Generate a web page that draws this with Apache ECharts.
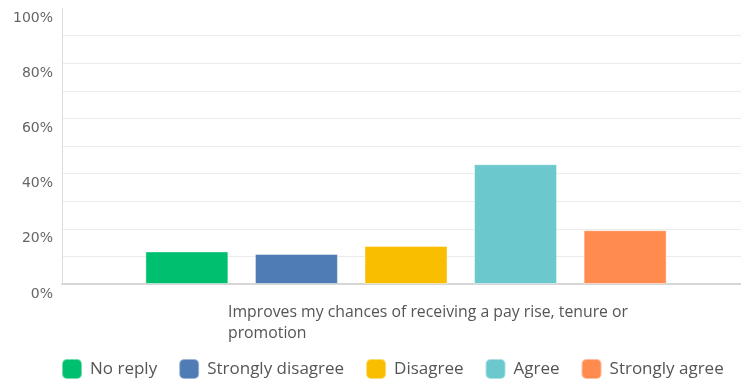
<!DOCTYPE html>
<html>
<head>
<meta charset="utf-8">
<style>
  html, body { margin: 0; padding: 0; background: #fff; }
  #chart { width: 741px; height: 382px; }
</style>
<script src="https://cdn.jsdelivr.net/npm/echarts@6/dist/echarts.min.js"></script>
</head>
<body>
<div id="chart"></div>
<script>
// Survey statement (single category) and the five answer groups
const categories = ['Improves my chances of receiving a pay rise, tenure or\npromotion'];
const seriesNames = ['No reply', 'Strongly disagree', 'Disagree', 'Agree', 'Strongly agree'];
const seriesColors = ['#00bf6f', '#507cb6', '#f9be00', '#6bc8cd', '#ff8b4f'];
// Share of respondents (%) for each answer
const noReply = [11.8];
const stronglyDisagree = [10.9];
const disagree = [13.8];
const agree = [43.4];
const stronglyAgree = [19.5];
const seriesValues = [noReply, stronglyDisagree, disagree, agree, stronglyAgree];
// Y-axis tick labels shown every 20%
const yTickLabels = [0, 20, 40, 60, 80, 100];

const chart = echarts.init(document.getElementById('chart'), null, { renderer: 'canvas' });

// Split lines every 10%; the top one (100%) is left undrawn
const gridColors = [];
for (let i = 0; i <= 10; i++) gridColors.push(i === 10 ? 'rgba(0,0,0,0)' : '#ebebeb');

chart.setOption({
  animation: false,
  backgroundColor: '#fff',
  // plot area runs a little past the right edge of the canvas
  grid: { left: 62, width: 688, top: 8, bottom: 98, containLabel: false, outerBoundsMode: 'none' },
  legend: {
    data: seriesNames,
    left: 56,
    top: 353,
    itemWidth: 20,
    itemHeight: 20,
    itemGap: 21,
    icon: 'roundRect',
    textStyle: { fontFamily: 'Open Sans', fontSize: 17, color: '#555', padding: [0, 0, 0, 3] }
  },
  xAxis: {
    type: 'category',
    data: categories,
    axisTick: { show: false },
    axisLine: { lineStyle: { color: '#d6d6d6', width: 2 } },
    axisLabel: {
      margin: 18,
      align: 'center',
      padding: [0, 0, 0, 44],
      formatter: function (v) {
        return v.split('\n').map(function (line) { return '{a|' + line + '}'; }).join('\n');
      },
      rich: {
        a: { width: 400, align: 'left', fontFamily: 'Open Sans', fontSize: 15.8, color: '#555', lineHeight: 21 }
      }
    }
  },
  yAxis: {
    type: 'value',
    min: 0,
    max: 100,
    interval: 10,
    axisLine: { show: true, lineStyle: { color: '#dcdcdc', width: 1 } },
    axisTick: { show: false },
    splitLine: { show: true, lineStyle: { color: gridColors, width: 1 } },
    axisLabel: {
      margin: 9,
      verticalAlign: 'top',
      padding: [3, 0, 0, 0],
      fontFamily: 'DejaVu Sans',
      fontSize: 14,
      color: '#666',
      formatter: function (v) { return yTickLabels.indexOf(v) >= 0 ? v + '%' : ''; }
    }
  },
  series: seriesNames.map(function (name, i) {
    return {
      name: name,
      type: 'bar',
      data: seriesValues[i],
      barWidth: 83,
      barGap: '32%',
      itemStyle: { color: seriesColors[i], borderColor: 'rgba(255,255,255,0.45)', borderWidth: 1 }
    };
  })
});
</script>
</body>
</html>
